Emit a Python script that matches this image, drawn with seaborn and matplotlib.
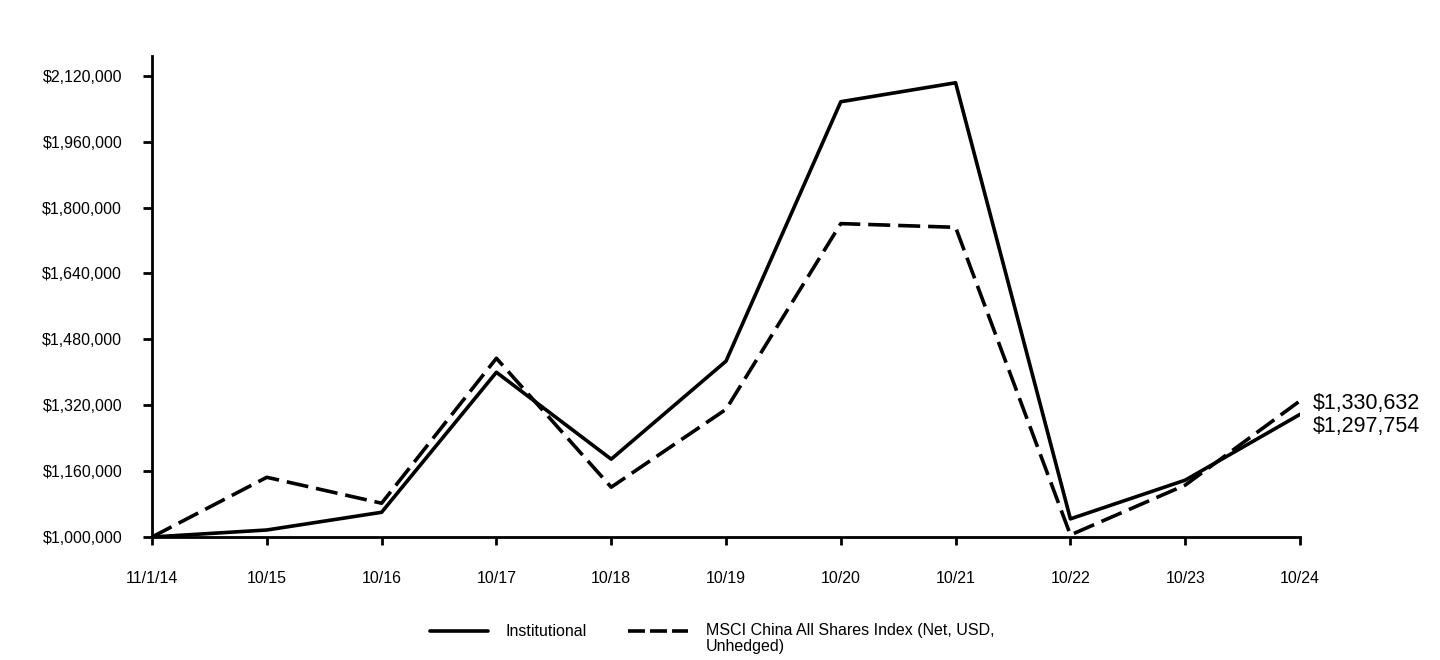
import matplotlib
matplotlib.use("Agg")
import matplotlib.pyplot as plt
import seaborn as sns
import pandas as pd
from matplotlib.ticker import FuncFormatter, FixedLocator
from matplotlib.lines import Line2D

periods = ["11/1/14", "10/15", "10/16", "10/17", "10/18", "10/19", "10/20", "10/21", "10/22", "10/23", "10/24"]
institutional = [1000000, 1017000, 1060000, 1400000, 1189000, 1427000, 2057000, 2103000, 1044000, 1138000, 1297754]
msci = [1000000, 1145000, 1082000, 1434000, 1121000, 1310000, 1761000, 1752000, 1005000, 1126000, 1330632]
series_names = ["Institutional", "MSCI China All Shares Index (Net, USD,\nUnhedged)"]
yticks = [1000000, 1160000, 1320000, 1480000, 1640000, 1800000, 1960000, 2120000]

df = pd.DataFrame({
    "pos": list(range(len(periods))) * 2,
    "value": institutional + msci,
    "series": [series_names[0]] * len(periods) + [series_names[1]] * len(periods),
})

sns.set_theme(style="white")
plt.rcParams['font.family'] = ['Liberation Sans', 'DejaVu Sans']

W, H = 1440, 660
fig = plt.figure(figsize=(W / 100, H / 100), dpi=100)
ax = fig.add_axes([152/W, (H-537)/H, (1300-152)/W, (537-56)/H])

lw = 2.6
sns.lineplot(data=df, x="pos", y="value", hue="series", style="series",
             palette=["black", "black"],
             dashes={series_names[0]: "", series_names[1]: (6.1, 2.2)},
             linewidth=lw, ax=ax, legend=False)

ax.set_xlim(0, len(periods) - 1)
ax.set_ylim(1000000, 2168000)
ax.xaxis.set_major_locator(FixedLocator(range(len(periods))))
ax.set_xticklabels(periods)
ax.yaxis.set_major_locator(FixedLocator(yticks))
ax.yaxis.set_major_formatter(FuncFormatter(lambda v, p: "${:,.0f}".format(v)))
ax.set_xlabel("")
ax.set_ylabel("")

for s in ["top", "right"]:
    ax.spines[s].set_visible(False)
for s in ["left", "bottom"]:
    ax.spines[s].set_color("black")
    ax.spines[s].set_linewidth(2)

ax.tick_params(axis="y", which="major", direction="out", length=6.5, width=2, color="black",
               labelsize=11.5, labelcolor="black", pad=15, left=True)
ax.tick_params(axis="x", which="major", direction="out", length=5.8, width=2, color="black",
               labelsize=11.5, labelcolor="black", pad=19, bottom=True)

last = len(periods) - 1
ax.annotate("${:,.0f}".format(msci[-1]), xy=(last, msci[-1]), xytext=(9, -2),
            textcoords="offset points", fontsize=15.5, va="center", ha="left",
            color="black", annotation_clip=False)
ax.annotate("${:,.0f}".format(institutional[-1]), xy=(last, institutional[-1]), xytext=(9, -8.5),
            textcoords="offset points", fontsize=15.5, va="center", ha="left",
            color="black", annotation_clip=False)

# legend (manual layout, figure pixel coordinates)
ly = 1 - 631 / H
fig.add_artist(Line2D([430/W, 488/W], [ly, ly], color="black", lw=lw, transform=fig.transFigure))
fig.add_artist(Line2D([628/W, 688/W], [ly, ly], color="black", lw=lw, dashes=(4.7, 1.4),
                      transform=fig.transFigure))
fig.text(506/W, ly, series_names[0], fontsize=11.5, va="center", ha="left", color="black")
fig.text(706/W, 1 - 623/H, series_names[1], fontsize=11.5, va="top", ha="left", color="black",
         linespacing=1.05)

fig.savefig("out.png", dpi=100)
